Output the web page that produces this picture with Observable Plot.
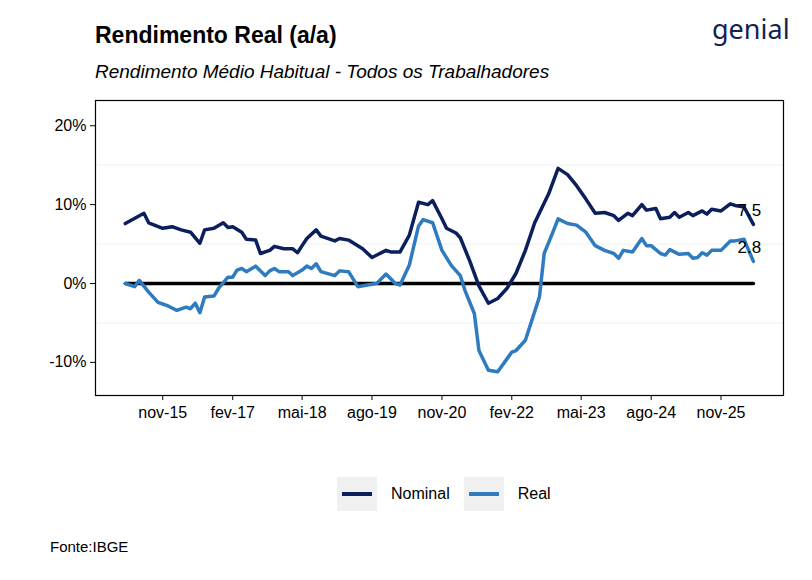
<!DOCTYPE html>
<html><head><meta charset="utf-8">
<script src="https://cdn.jsdelivr.net/npm/d3@7"></script>
<script src="https://cdn.jsdelivr.net/npm/@observablehq/plot@0.6"></script>
<style>
body{margin:0;background:#fff;font-family:Arial,"Liberation Sans",sans-serif;}
#wrap{position:relative;width:812px;height:580px;}
.abs{position:absolute;white-space:nowrap;color:#000;}
</style></head><body>
<div id="wrap">
<div class="abs" style="left:95px;top:22px;font-size:23px;font-weight:bold;">Rendimento Real (a/a)</div>
<div class="abs" style="left:95px;top:61px;font-size:19px;font-style:italic;">Rendimento Médio Habitual - Todos os Trabalhadores</div>
<div class="abs" style="left:712px;top:10px;font-size:27px;color:#14224f;font-family:'Noto Sans',sans-serif;">genial</div>
<div class="abs" style="left:337px;top:477px;display:flex;align-items:center;font-size:16px;">
  <span style="display:inline-block;width:40px;height:34px;background:#f0f0f0;position:relative;"><span style="position:absolute;left:5px;top:15px;width:30px;height:4px;background:#0b1f5c;"></span></span>
  <span style="margin:0 14px 0 14px;">Nominal</span>
  <span style="display:inline-block;width:40px;height:34px;background:#f0f0f0;position:relative;"><span style="position:absolute;left:5px;top:15px;width:30px;height:4px;background:#2f7bbf;"></span></span>
  <span style="margin-left:14px;">Real</span>
</div>
<div class="abs" style="left:50px;top:538px;font-size:15px;">Fonte:IBGE</div>
<div id="chart"></div>
</div>
<script>
// month offsets from Nov 2015
const nomM = [-8,-4,-3,0,2,4,6,8,9,11,13,14,15,17,18,20,21,23,24,26,28,29,30,31,33,34,37,38,40,43,45,48,49,51,53,55,57,58,60,61,63,64,66,68,70,72,74,76,78,80,83,85,87,89,91,93,95,97,98,100,101,103,104,106,107,109,110,111,113,114,116,117,118,120,122,123,125,127];
const nomV = [7.6,8.9,7.7,7.0,7.2,6.8,6.5,5.1,6.8,7.0,7.7,7.1,7.2,6.5,5.6,5.5,3.8,4.2,4.7,4.4,4.4,3.9,4.8,5.7,6.8,6.0,5.4,5.7,5.5,4.4,3.3,4.2,4.0,4.0,6.1,10.3,10.0,10.5,8.2,7.0,6.4,5.8,2.9,-0.3,-2.5,-1.9,-0.6,1.3,4.2,7.7,11.4,14.6,13.8,12.4,10.7,8.9,9.0,8.6,8.0,8.9,8.6,10.0,9.3,9.5,8.2,8.4,9.0,8.4,9.0,8.6,9.2,8.8,9.4,9.2,10.1,9.9,9.7,7.5];
const realM = [-8,-6,-5,-3,-1,0,1,2,3,5,6,7,8,9,11,12,14,15,16,17,18,20,22,23,24,25,27,28,30,31,32,33,34,37,38,40,42,44,46,48,50,51,53,55,56,58,60,62,64,65,67,68,70,72,75,76,78,81,82,84,85,87,89,91,93,95,97,98,99,101,103,104,105,107,108,109,111,113,114,115,116,117,118,120,122,123,125,127];
const realV = [0.0,-0.4,0.4,-1.1,-2.4,-2.6,-2.8,-3.1,-3.4,-3.0,-3.2,-2.5,-3.7,-1.7,-1.6,-0.6,0.8,0.8,1.7,1.9,1.5,2.2,1.0,1.6,1.9,1.5,1.5,1.0,1.7,2.2,1.9,2.5,1.5,1.0,1.6,1.5,-0.4,-0.2,0.0,1.2,0.0,-0.2,2.3,7.3,8.1,7.7,4.2,2.3,1.0,-0.9,-3.8,-8.5,-11.0,-11.2,-8.7,-8.5,-7.2,-1.7,3.8,6.7,8.2,7.6,7.4,6.5,4.8,4.2,3.8,3.2,4.2,4.0,5.7,4.8,4.8,3.8,3.6,4.3,3.7,3.8,3.2,3.3,3.9,3.6,4.2,4.2,5.4,5.4,5.6,2.8];
const tickM = [0,15,30,45,60,75,90,105,120];
const yTicks = [-10,0,10,20];
const monthNames = ["jan","fev","mar","abr","mai","jun","jul","ago","set","out","nov","dez"];
const toDate = m => new Date(2015, 10 + m, 1);
const data = [
  ...nomM.map((m,i)=>({date:toDate(m), v:nomV[i], s:"Nominal"})),
  ...realM.map((m,i)=>({date:toDate(m), v:realV[i], s:"Real"}))
];
const lastPts = [
  {date:toDate(nomM.at(-1)), v:nomV.at(-1)},
  {date:toDate(realM.at(-1)), v:realV.at(-1)}
];
const zero = [{date:toDate(nomM[0]), v:0},{date:toDate(nomM.at(-1)), v:0}];
const fmt = d => monthNames[d.getMonth()] + "-" + String(d.getFullYear()).slice(2);
const chart = Plot.plot({
  width:812, height:580,
  marginLeft:95, marginRight:29, marginTop:100, marginBottom:185,
  style:{fontFamily:"Arial, 'Liberation Sans', sans-serif", fontSize:"16px", color:"#000", background:"transparent"},
  x:{type:"time", domain:[new Date(2014,7,18), new Date(2026,11,15)], label:null},
  y:{domain:[-14.2,23.2], label:null},
  color:{domain:["Nominal","Real"], range:["#0b1f5c","#2f7bbf"]},
  marks:[
    Plot.gridY([-5,5,15], {stroke:"#f0f0f0", strokeOpacity:1, strokeWidth:1}),
    Plot.axisX({ticks:tickM.map(toDate), tickFormat:fmt, fontSize:16, tickSize:5, tickPadding:6, label:null}),
    Plot.axisY({ticks:yTicks, tickFormat:d=>d+"%", fontSize:16, tickSize:5, tickPadding:4, label:null}),
    Plot.line(zero, {x:"date", y:"v", stroke:"#000", strokeWidth:3.5}),
    Plot.line(data, {x:"date", y:"v", stroke:"s", z:"s", strokeWidth:3.5, curve:"linear"}),
    Plot.text(lastPts, {x:"date", y:"v", text:d=>d.v.toFixed(1), dy:-14, dx:-4, fontSize:17, fill:"#000"}),
    Plot.frame({stroke:"#000", strokeWidth:1.2})
  ]
});
document.getElementById("chart").appendChild(chart);
</script>
</body></html>
